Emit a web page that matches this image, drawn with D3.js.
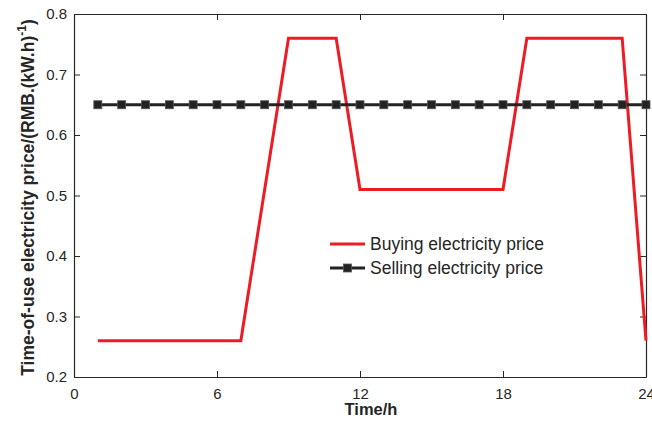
<!DOCTYPE html>
<html>
<head>
<meta charset="utf-8">
<script src="https://cdn.jsdelivr.net/npm/d3@7"></script>
<style>
  body { margin: 0; background: #fff; }
  svg text { font-family: "Liberation Sans", Arial, sans-serif; fill: #262626; }
</style>
</head>
<body>
<div id="chart"></div>
<script>
// hours 1..24
const hours = d3.range(1, 25);
const buyingPrice = [0.26, 0.26, 0.26, 0.26, 0.26, 0.26, 0.26, 0.51, 0.76, 0.76, 0.76, 0.51,
                     0.51, 0.51, 0.51, 0.51, 0.51, 0.51, 0.76, 0.76, 0.76, 0.76, 0.76, 0.26];
const sellingPrice = [0.65, 0.65, 0.65, 0.65, 0.65, 0.65, 0.65, 0.65, 0.65, 0.65, 0.65, 0.65,
                      0.65, 0.65, 0.65, 0.65, 0.65, 0.65, 0.65, 0.65, 0.65, 0.65, 0.65, 0.65];
const xTicks = [0, 6, 12, 18, 24];
const yTicks = [0.2, 0.3, 0.4, 0.5, 0.6, 0.7, 0.8];
const seriesNames = ['Buying electricity price', 'Selling electricity price'];

const width = 652, height = 423;
const margin = { top: 14, right: 6, bottom: 46, left: 74 };
const innerW = width - margin.left - margin.right;
const innerH = height - margin.top - margin.bottom;

const svg = d3.select('#chart').append('svg')
    .attr('width', width)
    .attr('height', height);

const g = svg.append('g')
    .attr('transform', `translate(${margin.left},${margin.top})`);

const x = d3.scaleLinear().domain([0, 24]).range([0, innerW]);
const y = d3.scaleLinear().domain([0.2, 0.8]).range([innerH, 0]);

// axes, ticks pointing inward, mirrored on top/right
function styleAxis(sel) {
    sel.select('.domain').attr('stroke', '#262626').attr('stroke-width', 1.2);
    sel.selectAll('.tick line').attr('stroke', '#262626').attr('stroke-width', 1);
    sel.selectAll('text').style('font-size', '15px');
}

g.append('g')
    .attr('transform', `translate(0,${innerH})`)
    .call(d3.axisBottom(x).tickValues(xTicks).tickSizeInner(-6).tickSizeOuter(0).tickPadding(11))
    .call(styleAxis);

g.append('g')
    .call(d3.axisTop(x).tickValues(xTicks).tickSizeInner(-6).tickSizeOuter(0).tickFormat(''))
    .call(styleAxis);

g.append('g')
    .call(d3.axisLeft(y).tickValues(yTicks).tickSizeInner(-6).tickSizeOuter(0).tickPadding(7)
        .tickFormat(d3.format('.1f')))
    .call(styleAxis);

g.append('g')
    .attr('transform', `translate(${innerW},0)`)
    .call(d3.axisRight(y).tickValues(yTicks).tickSizeInner(-6).tickSizeOuter(0).tickFormat(''))
    .call(styleAxis);

// lines
const line = d3.line()
    .x((d, i) => x(hours[i]))
    .y(d => y(d));

g.append('path')
    .datum(buyingPrice)
    .attr('fill', 'none')
    .attr('stroke', '#ed1c24')
    .attr('stroke-width', 3)
    .attr('stroke-linejoin', 'miter')
    .attr('d', line);

g.append('path')
    .datum(sellingPrice)
    .attr('fill', 'none')
    .attr('stroke', '#222')
    .attr('stroke-width', 3)
    .attr('d', line);

const ms = 8;
g.selectAll('.marker')
    .data(sellingPrice)
    .enter().append('rect')
    .attr('class', 'marker')
    .attr('x', (d, i) => x(hours[i]) - ms / 2)
    .attr('y', d => y(d) - ms / 2)
    .attr('width', ms)
    .attr('height', ms)
    .attr('fill', '#222')
    .attr('stroke', '#555')
    .attr('stroke-width', 0.8);

// legend
const legend = svg.append('g').attr('transform', 'translate(330,244)');
legend.append('line')
    .attr('x1', 0).attr('x2', 35).attr('y1', 0).attr('y2', 0)
    .attr('stroke', '#ed1c24').attr('stroke-width', 3);
legend.append('text')
    .attr('x', 40).attr('y', 6)
    .style('font-size', '17.5px')
    .text(seriesNames[0]);

legend.append('line')
    .attr('x1', 0).attr('x2', 35).attr('y1', 24).attr('y2', 24)
    .attr('stroke', '#222').attr('stroke-width', 3);
legend.append('rect')
    .attr('x', 17.5 - ms / 2).attr('y', 24 - ms / 2)
    .attr('width', ms).attr('height', ms)
    .attr('fill', '#222').attr('stroke', '#555').attr('stroke-width', 0.8);
legend.append('text')
    .attr('x', 40).attr('y', 30)
    .style('font-size', '17.5px')
    .text(seriesNames[1]);

// axis titles
svg.append('text')
    .attr('x', 371)
    .attr('y', 415)
    .attr('text-anchor', 'middle')
    .style('font-size', '16.5px')
    .style('font-weight', 'bold')
    .text('Time/h');

const yLabel = svg.append('text')
    .attr('transform', `translate(34,${margin.top + innerH / 2 + 2}) rotate(-90)`)
    .attr('text-anchor', 'middle')
    .style('font-size', '17.5px')
    .style('font-weight', 'bold');
yLabel.append('tspan').text('Time-of-use electricity price/(RMB.(kW.h)');
yLabel.append('tspan').attr('dy', -8).style('font-size', '12px').text('-1');
yLabel.append('tspan').attr('dy', 8).text(')');
</script>
</body>
</html>
